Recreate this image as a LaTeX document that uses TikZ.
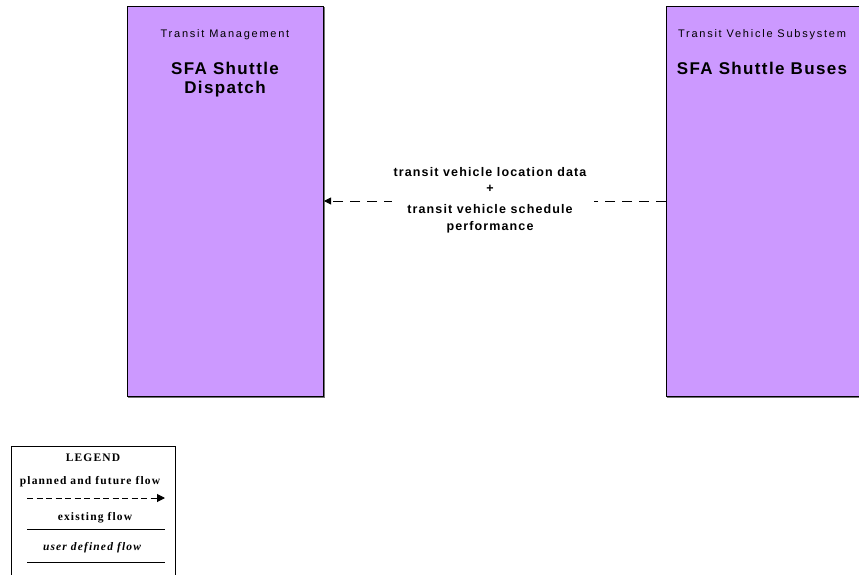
\documentclass[tikz,border=0pt]{standalone}
\usepackage{fontspec}
\setmainfont{Liberation Sans}
\newfontfamily\catfont[LetterSpace=16]{Liberation Sans}
\newfontfamily\titlefont[LetterSpace=8]{Liberation Sans}
\newfontfamily\flowfont[LetterSpace=9]{Liberation Sans}
\newfontfamily\legendfont[LetterSpace=10]{Liberation Serif}
\usetikzlibrary{arrows.meta}
\definecolor{boxfill}{HTML}{CC99FF}
\tikzset{
  px/.style={x=1pt,y=-1pt},
  sysbox/.style={draw=black, line width=0.8pt, fill=boxfill},
  shadowline/.style={draw=black!55, line width=1.2pt},
  cat/.style={font=\catfont\fontsize{11}{13}\selectfont, anchor=center},
  title/.style={font=\titlefont\fontsize{17}{19}\selectfont\bfseries, align=center, anchor=north},
  flowlbl/.style={font=\flowfont\fontsize{12.5}{17}\selectfont\bfseries, align=center},
  flow/.style={dashed, dash pattern=on 10pt off 7pt, line width=0.9pt, -{Triangle[length=7pt,width=7pt]}},
  lgtext/.style={font=\legendfont\fontsize{11.5}{13}\selectfont\bfseries},
}
\begin{document}
\begin{tikzpicture}[px]
\useasboundingbox (0,0) rectangle (859,575);
% left box
\draw[shadowline] (128,397) -- (324,397) -- (324,7);
\path[sysbox] (127,6) rectangle (323,396);
\node[cat] (lcat) at (225,35) {Transit Management};
\node[title] (ltitle) at (225,59) {SFA Shuttle\\Dispatch};
% right box
\draw[shadowline] (667,397) -- (859,397);
\path[sysbox] (666,6) rectangle (862,396);
\node[cat] (rcat) at (762,35) {Transit Vehicle Subsystem};
\node[title] (rtitle) at (762,59) {SFA Shuttle Buses};
% flow
\coordinate (rb) at (666,201);
\coordinate (lb) at (324,201);
\draw[flow] (rb) -- (lb);
\fill[white] (392,193) rectangle (594,209);
\node[flowlbl] (flbl) at (490,200) {transit vehicle location data\\[-1pt]+\\[4pt]transit vehicle schedule\\performance};
% legend
\draw[line width=0.8pt] (11,580) -- (11,446) -- (175,446) -- (175,580);
\node[lgtext] (lg) at (93,458) {LEGEND};
\node[lgtext] (lp) at (90,482) {planned and future flow};
\coordinate (lpa) at (27,498);
\coordinate (lpb) at (165,498);
\draw[dashed, dash pattern=on 6pt off 3.5pt, line width=1pt, -{Triangle[length=8pt,width=8pt]}] (lpa) -- (lpb);
\node[lgtext] (le) at (95,518) {existing flow};
\coordinate (lea) at (27,529);
\coordinate (leb) at (165,529);
\draw[line width=1pt] (lea) -- (leb);
\node[lgtext, font=\legendfont\fontsize{11.5}{13}\selectfont\bfseries\itshape] (lu) at (92,548) {user defined flow};
\coordinate (lua) at (27,562);
\coordinate (lub) at (165,562);
\draw[line width=1pt] (lua) -- (lub);
\end{tikzpicture}
\end{document}
